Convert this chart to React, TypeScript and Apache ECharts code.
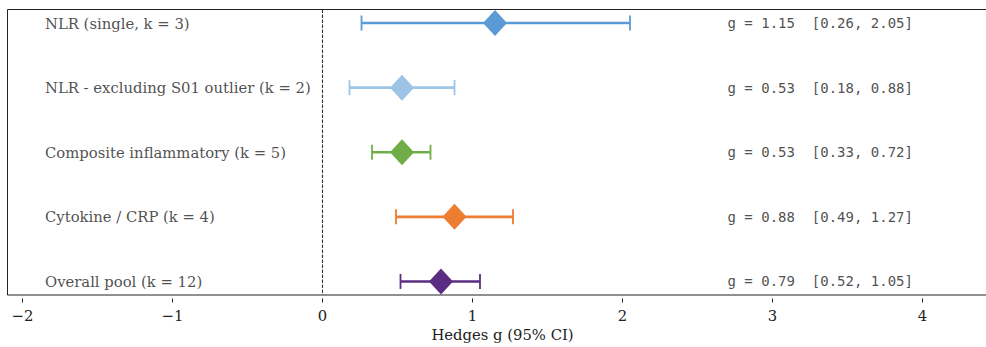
import React, { useEffect, useRef } from "react";
import * as echarts from "echarts";

const categories = [
  "NLR (single, k = 3)",
  "NLR - excluding S01 outlier (k = 2)",
  "Composite inflammatory (k = 5)",
  "Cytokine / CRP (k = 4)",
  "Overall pool (k = 12)",
];
const gValues = [1.15, 0.53, 0.53, 0.88, 0.79];
const ciLow = [0.26, 0.18, 0.33, 0.49, 0.52];
const ciHigh = [2.05, 0.88, 0.72, 1.27, 1.05];
const colors = ["#5b9bd5", "#9dc3e6", "#70ad47", "#ed7d31", "#5a2d82"];
const xTickMin = -2;
const xTickMax = 4;
const xMin = -2.1;
const xMax = 4.5;
const yMin = -0.21;
const yMax = 4.21;
const labelX = -1.85;
const annotX = 2.7;

const SERIF = "'DejaVu Serif', serif";
const MONO = "'DejaVu Sans Mono', monospace";
const TEXT = "#222";
const SERIF_SIZE = 14.8;

export default function App() {
  const ref = useRef<HTMLDivElement>(null);

  useEffect(() => {
    if (!ref.current) return;
    document.body.style.overflow = "hidden";
    const chart = echarts.init(ref.current, undefined, { renderer: "svg" });

    const rows = categories.map((_, i) => i);

    const option: any = {
      animation: false,
      backgroundColor: "#ffffff",
      grid: [
        {
          left: 7.5,
          top: 9.5,
          width: 990,
          height: 289,
          show: true,
          borderColor: "#222",
          borderWidth: 1,
          backgroundColor: "transparent",
        },
        {
          left: 22.5,
          top: 9.5,
          width: 900,
          height: 289,
          show: false,
        },
      ],
      xAxis: [
        {
          gridIndex: 0,
          type: "value",
          min: xMin,
          max: xMax,
          axisLine: { show: false, onZero: false },
          axisTick: { show: false },
          axisLabel: { show: false },
          splitLine: { show: false },
          name: "Hedges g (95% CI)",
          nameLocation: "middle",
          nameGap: 32,
          nameTextStyle: { fontFamily: SERIF, fontSize: SERIF_SIZE, color: TEXT },
        },
        {
          gridIndex: 1,
          type: "value",
          min: xTickMin,
          max: xTickMax,
          interval: 1,
          position: "bottom",
          axisLine: { show: false, onZero: false },
          axisTick: {
            show: true,
            length: 4,
            lineStyle: { color: "#222", width: 1 },
          },
          axisLabel: {
            show: true,
            margin: 9,
            fontFamily: SERIF,
            fontSize: SERIF_SIZE,
            color: TEXT,
            formatter: (v: number) => String(v).replace("-", "\u2212"),
          },
          splitLine: { show: false },
        },
      ],
      yAxis: [
        {
          gridIndex: 0,
          type: "value",
          inverse: true,
          min: yMin,
          max: yMax,
          show: false,
        },
        {
          gridIndex: 1,
          type: "value",
          inverse: true,
          min: yMin,
          max: yMax,
          show: false,
        },
      ],
      series: [
        {
          type: "line",
          xAxisIndex: 0,
          yAxisIndex: 0,
          data: [
            [0, yMin],
            [0, yMax],
          ],
          symbol: "none",
          lineStyle: { color: "#333", width: 1.1, type: [3.5, 1.5] },
          z: 1,
          silent: true,
        },
        {
          type: "custom",
          xAxisIndex: 0,
          yAxisIndex: 0,
          data: rows.map((i) => [ciLow[i], ciHigh[i], i]),
          renderItem: (params: any, api: any) => {
            const idx = params.dataIndex;
            const p1 = api.coord([api.value(0), api.value(2)]);
            const p2 = api.coord([api.value(1), api.value(2)]);
            const c = colors[idx];
            const h = 7.5;
            return {
              type: "group",
              children: [
                {
                  type: "line",
                  shape: { x1: p1[0], y1: p1[1], x2: p2[0], y2: p2[1] },
                  style: { stroke: c, lineWidth: 2.6 },
                },
                {
                  type: "line",
                  shape: { x1: p1[0], y1: p1[1] - h, x2: p1[0], y2: p1[1] + h },
                  style: { stroke: c, lineWidth: 1.8 },
                },
                {
                  type: "line",
                  shape: { x1: p2[0], y1: p2[1] - h, x2: p2[0], y2: p2[1] + h },
                  style: { stroke: c, lineWidth: 1.8 },
                },
              ],
            };
          },
          z: 2,
          silent: true,
        },
        {
          type: "scatter",
          xAxisIndex: 0,
          yAxisIndex: 0,
          symbol: "diamond",
          symbolSize: [24, 26],
          data: rows.map((i) => ({
            value: [gValues[i], i],
            itemStyle: { color: colors[i], opacity: 1 },
          })),
          z: 3,
          silent: true,
        },
        {
          type: "scatter",
          xAxisIndex: 0,
          yAxisIndex: 0,
          symbolSize: 0,
          data: rows.map((i) => ({ value: [labelX, i], name: categories[i] })),
          label: {
            show: true,
            position: "right",
            distance: 0,
            formatter: (p: any) => p.name,
            fontFamily: SERIF,
            fontSize: SERIF_SIZE,
            color: TEXT,
          },
          z: 4,
          silent: true,
        },
        {
          type: "scatter",
          xAxisIndex: 0,
          yAxisIndex: 0,
          symbolSize: 0,
          data: rows.map((i) => ({
            value: [annotX, i],
            name: `g = ${gValues[i].toFixed(2)}  [${ciLow[i].toFixed(2)}, ${ciHigh[i].toFixed(2)}]`,
          })),
          label: {
            show: true,
            position: "right",
            distance: 0,
            formatter: (p: any) => p.name,
            fontFamily: MONO,
            fontSize: 14,
            color: TEXT,
          },
          z: 4,
          silent: true,
        },
      ],
    };

    chart.setOption(option);
    return () => chart.dispose();
  }, []);

  return (
    <div
      ref={ref}
      style={{
        position: "fixed",
        left: 0,
        top: 0,
        width: 1010,
        height: 347,
        background: "#fff",
      }}
    />
  );
}
